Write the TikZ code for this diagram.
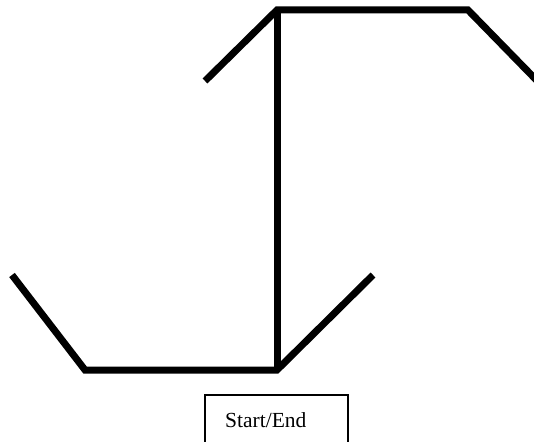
\documentclass[tikz,border=0pt]{standalone}
\usepackage{fontspec}
\setmainfont{Liberation Serif}
\begin{document}
\begin{tikzpicture}[x=1pt,y=-1pt,
  conn/.style={line width=7pt, line cap=butt, line join=miter, black},
  boxline/.style={line width=1.2pt, black},
  lbl/.style={font=\fontsize{21.5}{24}\selectfont, inner sep=0pt, anchor=base west}]
\useasboundingbox (0,0) rectangle (534,441);
\clip (0,0) rectangle (534,441);
% coordinates
\coordinate (tl) at (205,81);
\coordinate (tj) at (277,10);
\coordinate (tr) at (468,10);
\coordinate (te) at (550,94);
\coordinate (bl) at (12,275);
\coordinate (bc) at (85,370);
\coordinate (bj) at (277,370);
\coordinate (br) at (373,275);
% connectors
\draw[conn] (tl) -- (tj) -- (tr) -- (te);
\draw[conn] (tj) -- (bj);
\draw[conn] (bl) -- (bc) -- (bj) -- (br);
% start/end box (cut off at bottom)
\draw[boxline] (205,460) -- (205,395) -- (348,395) -- (348,460);
\node[lbl] (se) at (225,427) {Start/End};
\end{tikzpicture}
\end{document}
